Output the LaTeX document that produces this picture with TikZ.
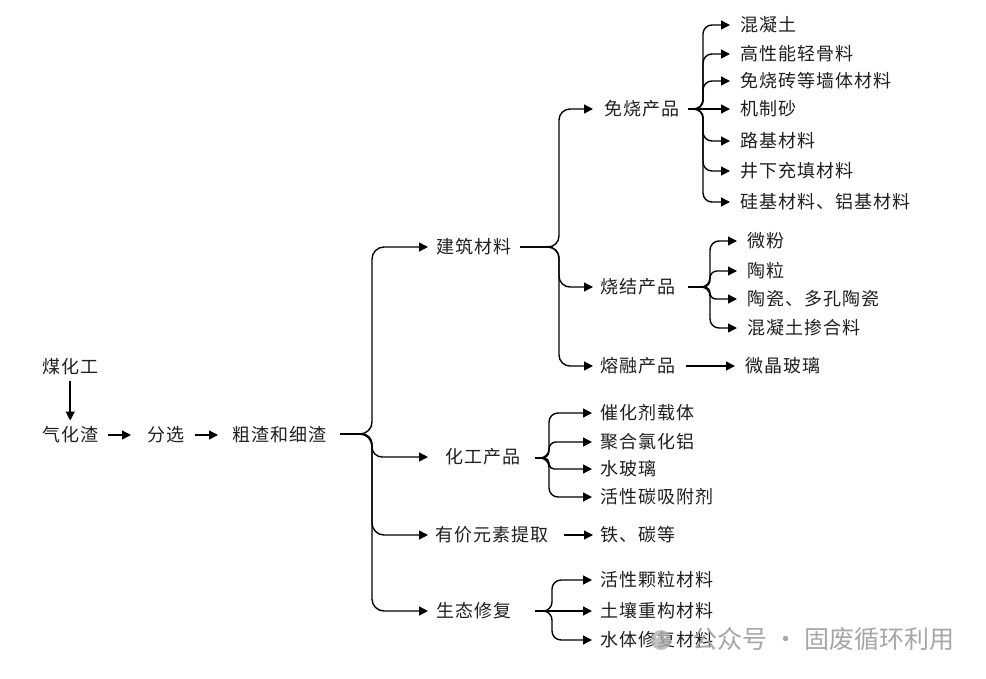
\documentclass[tikz,border=0pt]{standalone}
\usepackage{fontspec}
\setmainfont{Noto Sans CJK SC}[LetterSpace=5.5]
\newfontfamily\wmfont{Noto Sans CJK SC}
\usetikzlibrary{arrows.meta}
\begin{document}
\begin{tikzpicture}[x=1pt,y=-1pt,
  lbl/.style={anchor=west,inner sep=0pt,text height=16pt,text depth=2.5pt,font=\fontsize{18}{20}\selectfont,text=black!88},
  arr/.style={line width=1.4pt,-{Triangle[length=9pt,width=9pt]}},
  br/.style={arr,rounded corners=#1},
  br/.default=9pt]
\useasboundingbox (0,0) rectangle (986,678);
% level 0
\node[lbl] (mhg) at (42,367) {煤化工};
\node[lbl] (qhz) at (42,435) {气化渣};
\node[lbl] (fx) at (147,435) {分选};
\node[lbl] (czx) at (232,435) {粗渣和细渣};
% level 1
\node[lbl] (jzcl) at (436,247) {建筑材料};
\node[lbl] (hgcp) at (445,457) {化工产品};
\node[lbl] (yjys) at (435,535) {有价元素提取};
\node[lbl] (stxf) at (436,611) {生态修复};
% level 2
\node[lbl] (mscp) at (604,109) {免烧产品};
\node[lbl] (sjcp) at (600,287) {烧结产品};
\node[lbl] (rrcp) at (600,366) {熔融产品};
% 免烧 children
\node[lbl] (a1) at (740,25) {混凝土};
\node[lbl] (a2) at (740,54) {高性能轻骨料};
\node[lbl] (a3) at (740,81) {免烧砖等墙体材料};
\node[lbl] (a4) at (740,109) {机制砂};
\node[lbl] (a5) at (740,141) {路基材料};
\node[lbl] (a6) at (740,171) {井下充填材料};
\node[lbl] (a7) at (740,202) {硅基材料、铝基材料};
% 烧结 children
\node[lbl] (s1) at (747,241) {微粉};
\node[lbl] (s2) at (747,271) {陶粒};
\node[lbl] (s3) at (747,299) {陶瓷、多孔陶瓷};
\node[lbl] (s4) at (747,328) {混凝土掺合料};
\node[lbl] (wjbl) at (745,366) {微晶玻璃};
% 化工 children
\node[lbl] (h1) at (600,413) {催化剂载体};
\node[lbl] (h2) at (600,442) {聚合氯化铝};
\node[lbl] (h3) at (600,469) {水玻璃};
\node[lbl] (h4) at (600,497) {活性碳吸附剂};
\node[lbl] (tt) at (600,535) {铁、碳等};
% 生态 children
\node[lbl] (e1) at (600,580) {活性颗粒材料};
\node[lbl] (e2) at (600,611) {土壤重构材料};
\node[lbl] (e3) at (600,640) {水体修复材料};

% straight arrows
\draw[arr,shorten <=5pt,shorten >=5pt] (mhg.south) -- (qhz.north);
\draw[arr,shorten <=10pt,shorten >=16pt] (qhz.east) -- (fx.west);
\draw[arr,shorten <=11pt,shorten >=14pt] (fx.east) -- (czx.west);
\draw[arr,shorten <=11pt,shorten >=10pt] (rrcp.east) -- (wjbl.west);
\draw[arr,shorten <=16pt,shorten >=7pt] (yjys.east) -- (tt.west);

% root bracket
\coordinate (r0) at (340,434); \coordinate (r0s) at (372,434);
\draw[br=12pt,shorten >=8pt] (r0) -- (r0s) |- (jzcl.west);
\draw[br=10pt,shorten >=17pt] (r0) -- (r0s) |- (hgcp.west);
\draw[br=12pt,shorten >=7pt] (r0) -- (r0s) |- (yjys.west);
\draw[br=12pt,shorten >=8pt] (r0) -- (r0s) |- (stxf.west);

% 建筑材料 bracket
\coordinate (b1) at (520,247); \coordinate (b1s) at (559,247);
\draw[br=11pt,shorten >=11pt] (b1) -- (b1s) |- (mscp.west);
\draw[br=11pt,shorten >=7pt] (b1) -- (b1s) |- (sjcp.west);
\draw[br=11pt,shorten >=7pt] (b1) -- (b1s) |- (rrcp.west);

% 免烧产品 bracket
\coordinate (b2) at (688,109); \coordinate (b2s) at (703,109);
\draw[br,shorten >=10pt] (b2) -- (b2s) |- (a1.west);
\draw[br,shorten >=10pt] (b2) -- (b2s) |- (a2.west);
\draw[br,shorten >=10pt] (b2) -- (b2s) |- (a3.west);
\draw[arr,shorten >=10pt] (b2) -- (a4.west);
\draw[br,shorten >=10pt] (b2) -- (b2s) |- (a5.west);
\draw[br,shorten >=10pt] (b2) -- (b2s) |- (a6.west);
\draw[br,shorten >=10pt] (b2) -- (b2s) |- (a7.west);

% 烧结产品 bracket
\coordinate (b3) at (688,287); \coordinate (b3s) at (710,287);
\draw[br,shorten >=10pt] (b3) -- (b3s) |- (s1.west);
\draw[br=7pt,shorten >=10pt] (b3) -- (b3s) |- (s2.west);
\draw[br=6pt,shorten >=10pt] (b3) -- (b3s) |- (s3.west);
\draw[br,shorten >=10pt] (b3) -- (b3s) |- (s4.west);

% 化工产品 bracket
\coordinate (b4) at (535,458); \coordinate (b4s) at (549,458);
\draw[br,shorten >=8pt] (b4) -- (b4s) |- (h1.west);
\draw[br=7pt,shorten >=8pt] (b4) -- (b4s) |- (h2.west);
\draw[br=5pt,shorten >=8pt] (b4) -- (b4s) |- (h3.west);
\draw[br,shorten >=8pt] (b4) -- (b4s) |- (h4.west);

% 生态修复 bracket
\coordinate (b5) at (535,611); \coordinate (b5s) at (552,611);
\draw[br,shorten >=8pt] (b5) -- (b5s) |- (e1.west);
\draw[arr,shorten >=8pt] (b5) -- (e2.west);
\draw[br,shorten >=8pt] (b5) -- (b5s) |- (e3.west);

% watermark
\fill[black!30,opacity=0.8] (661,640) circle (10pt);
\fill[white,opacity=0.8] (657,637) circle (1.3pt) (665,637) circle (1.3pt);
\node[anchor=west,inner sep=0pt,text=black!35,font=\wmfont\fontsize{25}{27}\selectfont] (wm) at (692,639) {公众号\hspace{6pt}·\hspace{6pt}固废循环利用};
\end{tikzpicture}
\end{document}
